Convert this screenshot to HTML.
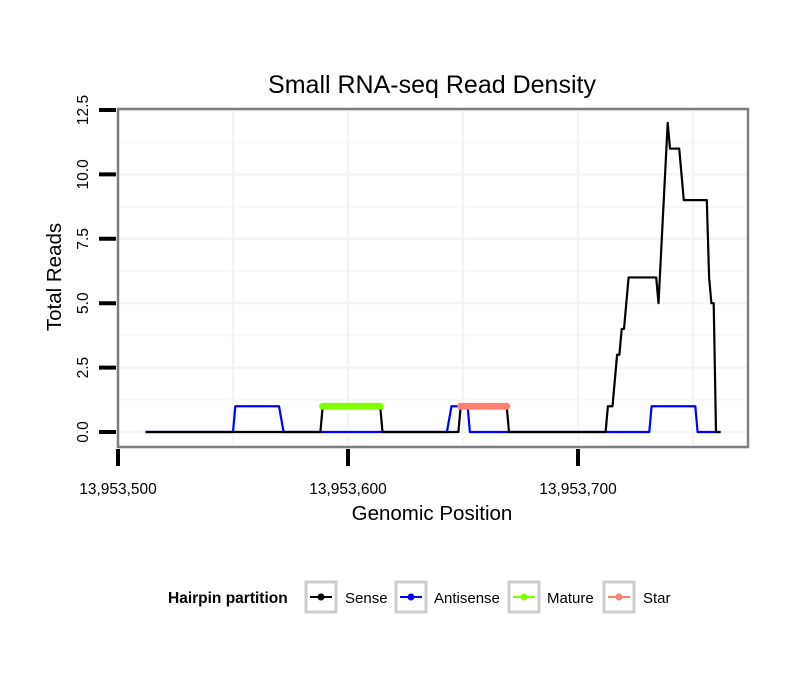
<!DOCTYPE html>
<html><head><meta charset="utf-8"><style>
body{margin:0;background:#fff;font-family:"Liberation Sans",sans-serif;}
svg text{font-family:"Liberation Sans",sans-serif;}
</style></head><body>
<svg id="chart" width="810" height="690" xmlns="http://www.w3.org/2000/svg">
<text x="432" y="93" text-anchor="middle" font-size="25">Small RNA-seq Read Density</text>
<g id="grid"></g>
<g id="marks"></g>
<rect x="118" y="109" width="630" height="338" fill="none" stroke="#7f7f7f" stroke-width="2.5"/>
<g id="axes"></g>
<text x="432" y="520" text-anchor="middle" font-size="20.5">Genomic Position</text>
<text transform="translate(61,277) rotate(-90)" text-anchor="middle" font-size="20.5">Total Reads</text>
<g>
<text x="168" y="603" font-size="15.5" font-weight="bold">Hairpin partition</text>
<g><rect x="306" y="582" width="30" height="30" fill="#fff" stroke="#ccc" stroke-width="3"/><line x1="310" x2="332" y1="597" y2="597" stroke="#000" stroke-width="2"/><circle cx="321" cy="597" r="3.5" fill="#000"/><text x="345" y="603" font-size="15">Sense</text></g>
<g><rect x="396" y="582" width="30" height="30" fill="#fff" stroke="#ccc" stroke-width="3"/><line x1="400" x2="422" y1="597" y2="597" stroke="#0000ff" stroke-width="2"/><circle cx="411" cy="597" r="3.5" fill="#0000ff"/><text x="434" y="603" font-size="15">Antisense</text></g>
<g><rect x="509" y="582" width="30" height="30" fill="#fff" stroke="#ccc" stroke-width="3"/><line x1="513" x2="535" y1="597" y2="597" stroke="#7fff00" stroke-width="2"/><circle cx="524" cy="597" r="3.5" fill="#7fff00"/><text x="547" y="603" font-size="15">Mature</text></g>
<g><rect x="604" y="582" width="30" height="30" fill="#fff" stroke="#ccc" stroke-width="3"/><line x1="608" x2="630" y1="597" y2="597" stroke="#fa8072" stroke-width="2"/><circle cx="619" cy="597" r="3.5" fill="#fa8072"/><text x="643" y="603" font-size="15">Star</text></g>
</g>
</svg>
<script>
const senseX=[512,588,589,614,615,648,649,669,670,712,713,715,717,718,719,720,722,734,735,739,740,744,746,756,757,758,759,760,762];
const senseY=[0,0,1,1,0,0,1,1,0,0,1,1,3,3,4,4,6,6,5,12,11,11,9,9,6,5,5,0,0];
const antiX=[512,550,551,570,572,643,645,652,653,731,732,751,752,762];
const antiY=[0,0,1,1,0,0,1,1,0,0,1,1,0,0];
const matureX=[589,590,591,592,593,594,595,596,597,598,599,600,601,602,603,604,605,606,607,608,609,610,611,612,613,614];
const starX=[649,650,651,652,653,654,655,656,657,658,659,660,661,662,663,664,665,666,667,668,669];
const xTicks=[13953500,13953600,13953700];
const xTickLabels=["13,953,500","13,953,600","13,953,700"];
const yTicks=[0,2.5,5,7.5,10,12.5];
const yTickLabels=["0.0","2.5","5.0","7.5","10.0","12.5"];

const NS="http://www.w3.org/2000/svg";
const X0=13953500;
function sx(v){return 118+(v-X0)*2.3;}
function sxr(p){return sx(13953000+p);}
function sy(v){return 432-v*25.76;}
function mk(tag,attrs,parent){const e=document.createElementNS(NS,tag);for(const k in attrs)e.setAttribute(k,attrs[k]);parent.appendChild(e);return e;}
const grid=document.getElementById('grid');
const axes=document.getElementById('axes');
const marks=document.getElementById('marks');
for(let i=0;i<yTicks.length;i++){
  const l=mk('line',{x1:118,x2:748,y1:sy(yTicks[i]),y2:sy(yTicks[i]),stroke:'#f4f4f4','stroke-width':2.5},grid);
  
  
  if(i<yTicks.length-1){
    const my=sy((yTicks[i]+yTicks[i+1])/2);
    const m=mk('line',{x1:118,x2:748,y1:my,y2:my,stroke:'#f8f8f8','stroke-width':2},grid);
    
    
  }
}
for(let i=0;i<xTicks.length;i++){
  const l=mk('line',{x1:sx(xTicks[i]),x2:sx(xTicks[i]),y1:109,y2:447,stroke:'#f4f4f4','stroke-width':2.5},grid);
  
  
  const mx=sx(xTicks[i])+50*2.3;
  if(mx<748){
    const m=mk('line',{x1:mx,x2:mx,y1:109,y2:447,stroke:'#f4f4f4','stroke-width':2.5},grid);
    
    
  }
}
for(let i=0;i<yTicks.length;i++){
  const y=sy(yTicks[i]);
  const t=mk('line',{x1:99,x2:116,y1:y,y2:y,stroke:'#000','stroke-width':4},axes);
  
  
  const tx=mk('text',{transform:`translate(88,${y}) rotate(-90)`,'text-anchor':'middle','font-size':15.5},axes);
  tx.textContent=yTickLabels[i];
  
  
}
for(let i=0;i<xTicks.length;i++){
  const x=sx(xTicks[i]);
  const t=mk('line',{x1:x,x2:x,y1:449,y2:466,stroke:'#000','stroke-width':4},axes);
  
  
  const tx=mk('text',{x:x,y:494,'text-anchor':'middle','font-size':15.5},axes);
  tx.textContent=xTickLabels[i];
  
  
}
function line(xs,ys,color,name){
  const pts=xs.map((p,i)=>sxr(p)+','+sy(ys[i])).join(' ');
  const pl=mk('polyline',{points:pts,fill:'none',stroke:color,'stroke-width':2.2,'stroke-linejoin':'round'},marks);
  
  
}
line(antiX,antiY,'#0000ff','antisense-line');
line(senseX,senseY,'#000','sense-line');
function pts(xs,color,name){
  xs.forEach(p=>{
    const c=mk('circle',{cx:sxr(p),cy:sy(1),r:3.5,fill:color},marks);
    
    
  });
}
pts(matureX,'#7fff00','mature-point');
pts(starX,'#fa8072','star-point');
</script>
</body></html>
